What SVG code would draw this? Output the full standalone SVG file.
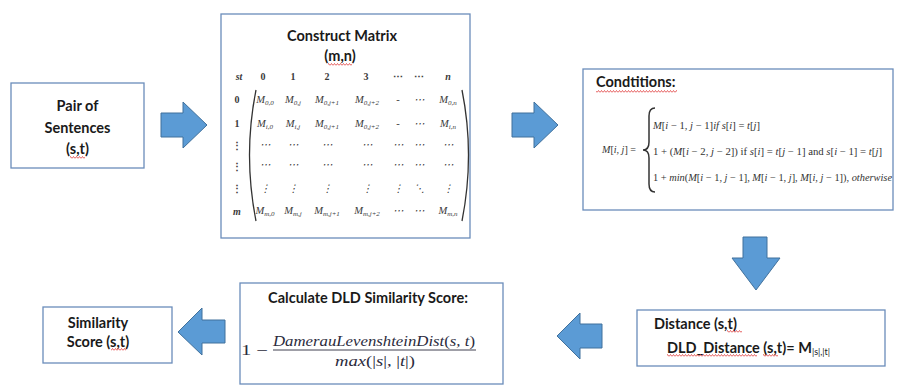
<svg xmlns="http://www.w3.org/2000/svg" width="899" height="385" viewBox="0 0 899 385">
<style>
.box{fill:#fff;stroke:#6a8dbb;stroke-width:1.3}
.arrow{fill:#5b9bd5;stroke:#41719c;stroke-width:1}
.lbl{font-family:Lato,"Liberation Sans",sans-serif;font-weight:bold;font-size:14.5px;fill:#1a1a1a}
.mx{font-family:"Liberation Serif",serif;font-style:italic;font-size:10.5px;fill:#3a3a3a;text-anchor:middle}
.hd{font-family:"Liberation Serif",serif;font-weight:bold;font-size:10px;fill:#3a3a3a;text-anchor:middle}
.eq{font-family:"Liberation Serif",serif;font-style:italic;font-size:10px;fill:#333}
.fr{font-family:"Liberation Serif",serif;font-style:italic;font-size:14px;fill:#2b2b3c}
.up{font-style:normal}
.wavy{fill:url(#wv)}
</style>
<defs>
<pattern id="wv" patternUnits="userSpaceOnUse" x="0" y="0" width="3" height="3">
<path d="M0 2.5 L1.5 0.5 L3 2.5" fill="none" stroke="#e03c3c" stroke-width="0.8"/>
</pattern>
</defs>

<g id="connectors">
<polygon class="arrow" points="161,113 183,113 183,102 207,125 183,148 183,137 161,137"/>
<polygon class="arrow" points="512,113 534,113 534,102 558,125 534,148 534,137 512,137"/>
<polygon class="arrow" points="743,237 767,237 767,258 780,258 756,290 732,258 743,258"/>
<polygon class="arrow" points="602,324 580,324 580,313 557,336 580,359 580,348 602,348"/>
<polygon class="arrow" points="225,320 202,320 202,308 178,332 202,355 202,343 225,343"/>
</g>

<g id="pair">
<rect class="box" x="11" y="83" width="133" height="85"/>
<text class="lbl" text-anchor="middle" x="77.5" y="111">Pair of</text>
<text class="lbl" text-anchor="middle" x="77.5" y="133">Sentences</text>
<text class="lbl" text-anchor="middle" x="77.5" y="154">(s,t)</text>
<rect class="wavy" x="70" y="156" width="15" height="3"/>
</g>

<g id="matrix">
<rect class="box" x="221" y="14" width="249" height="224"/>
<text class="lbl" text-anchor="middle" x="342" y="41">Construct Matrix</text>
<text class="lbl" text-anchor="middle" x="340" y="61">(m,n)</text>
<rect class="wavy" x="328" y="63" width="24" height="3"/>
<g>
<text class="hd" x="239" y="80"><tspan font-style="italic">st</tspan></text>
<text class="hd" x="263" y="80">0</text>
<text class="hd" x="293" y="80">1</text>
<text class="hd" x="327" y="80">2</text>
<text class="hd" x="366" y="80">3</text>
<text class="hd" x="398" y="80" font-weight="normal">⋯</text>
<text class="hd" x="419" y="80" font-weight="normal">⋯</text>
<text class="hd" x="448" y="80" font-style="italic">n</text>
<text class="hd" x="237" y="103">0</text>
<text class="hd" x="237" y="127">1</text>
<text class="hd" x="237" y="149">⋮</text>
<text class="hd" x="237" y="170">⋮</text>
<text class="hd" x="237" y="192">⋮</text>
<text class="hd" x="237" y="215" font-style="italic">m</text>
<path d="M256 90 Q243 155 256 221" fill="none" stroke="#333" stroke-width="1.3"/>
<path d="M462 90 Q475 155 462 221" fill="none" stroke="#333" stroke-width="1.3"/>
<text class="mx" x="265" y="103">M<tspan font-size="7" dy="2">0,0</tspan></text>
<text class="mx" x="293" y="103">M<tspan font-size="7" dy="2">0,j</tspan></text>
<text class="mx" x="327" y="103">M<tspan font-size="7" dy="2">0,j+1</tspan></text>
<text class="mx" x="367" y="103">M<tspan font-size="7" dy="2">0,j+2</tspan></text>
<text class="mx" x="398" y="103">-</text>
<text class="mx" x="419" y="103">⋯</text>
<text class="mx" x="448" y="103">M<tspan font-size="7" dy="2">0,n</tspan></text>
<text class="mx" x="265" y="127">M<tspan font-size="7" dy="2">i,0</tspan></text>
<text class="mx" x="293" y="127">M<tspan font-size="7" dy="2">i,j</tspan></text>
<text class="mx" x="327" y="127">M<tspan font-size="7" dy="2">0,j+1</tspan></text>
<text class="mx" x="367" y="127">M<tspan font-size="7" dy="2">0,j+2</tspan></text>
<text class="mx" x="398" y="127">-</text>
<text class="mx" x="419" y="127">⋯</text>
<text class="mx" x="448" y="127">M<tspan font-size="7" dy="2">i,n</tspan></text>
<text class="mx" x="265" y="148">⋯</text><text class="mx" x="293" y="148">⋯</text><text class="mx" x="327" y="148">⋯</text><text class="mx" x="367" y="148">⋯</text><text class="mx" x="398" y="148">⋯</text><text class="mx" x="419" y="148">⋯</text><text class="mx" x="448" y="148">⋯</text>
<text class="mx" x="265" y="168">⋯</text><text class="mx" x="293" y="168">⋯</text><text class="mx" x="327" y="168">⋯</text><text class="mx" x="367" y="168">⋯</text><text class="mx" x="398" y="168">⋯</text><text class="mx" x="419" y="168">⋯</text><text class="mx" x="448" y="168">⋯</text>
<text class="mx" x="265" y="192">⋮</text><text class="mx" x="293" y="192">⋮</text><text class="mx" x="327" y="192">⋮</text><text class="mx" x="367" y="192">⋮</text><text class="mx" x="398" y="192">⋮</text><text class="mx" x="419" y="192">⋱</text><text class="mx" x="448" y="192">⋮</text>
<text class="mx" x="265" y="214">M<tspan font-size="7" dy="2">m,0</tspan></text>
<text class="mx" x="293" y="214">M<tspan font-size="7" dy="2">m,j</tspan></text>
<text class="mx" x="327" y="214">M<tspan font-size="7" dy="2">m,j+1</tspan></text>
<text class="mx" x="367" y="214">M<tspan font-size="7" dy="2">m,j+2</tspan></text>
<text class="mx" x="398" y="214">⋯</text>
<text class="mx" x="419" y="214">⋯</text>
<text class="mx" x="448" y="214">M<tspan font-size="7" dy="2">m,n</tspan></text>
</g>
</g>

<g id="conditions">
<rect class="box" x="583" y="69" width="310" height="141"/>
<text class="lbl" x="596" y="87">Condtitions:</text>
<rect class="wavy" x="596" y="90" width="81" height="3"/>
<text class="eq" x="602" y="153" textLength="34" lengthAdjust="spacingAndGlyphs">M<tspan class="up">[</tspan>i, j<tspan class="up">] =</tspan></text>
<path d="M655 108 Q649 108 649 116 L649 142 Q649 150 643 150 Q649 150 649 158 L649 184 Q649 192 655 192" fill="none" stroke="#333" stroke-width="1.5"/>
<text class="eq" x="653" y="129" textLength="107" lengthAdjust="spacingAndGlyphs">M<tspan class="up">[</tspan>i <tspan class="up">− 1,</tspan> j <tspan class="up">− 1]</tspan>if s<tspan class="up">[</tspan>i<tspan class="up">] =</tspan> t<tspan class="up">[</tspan>j<tspan class="up">]</tspan></text>
<text class="eq" x="653" y="155" textLength="229" lengthAdjust="spacingAndGlyphs"><tspan class="up">1 + (</tspan>M<tspan class="up">[</tspan>i <tspan class="up">− 2,</tspan> j <tspan class="up">− 2]) if</tspan> s<tspan class="up">[</tspan>i<tspan class="up">] =</tspan> t<tspan class="up">[</tspan>j <tspan class="up">− 1] and</tspan> s<tspan class="up">[</tspan>i <tspan class="up">− 1] =</tspan> t<tspan class="up">[</tspan>j<tspan class="up">]</tspan></text>
<text class="eq" x="653" y="181" textLength="239" lengthAdjust="spacingAndGlyphs"><tspan class="up">1 + </tspan>min<tspan class="up">(</tspan>M<tspan class="up">[</tspan>i <tspan class="up">− 1,</tspan> j <tspan class="up">− 1],</tspan> M<tspan class="up">[</tspan>i <tspan class="up">− 1,</tspan> j<tspan class="up">],</tspan> M<tspan class="up">[</tspan>i, j <tspan class="up">− 1]),</tspan> otherwise</text>
</g>

<g id="distance">
<rect class="box" x="637" y="310" width="248" height="56"/>
<text class="lbl" x="654" y="329">Distance (s,t)</text>
<rect class="wavy" x="727" y="330" width="15" height="3"/>
<text class="lbl" x="667" y="353">DLD_Distance (s,t)= M<tspan font-size="9" font-weight="normal" dy="2">|s|,|t|</tspan></text>
<rect class="wavy" x="667" y="354" width="90" height="3"/>
<rect class="wavy" x="763" y="354" width="15" height="3"/>
</g>

<g id="score">
<rect class="box" x="240" y="283" width="263" height="101"/>
<text class="lbl" text-anchor="middle" x="368" y="303">Calculate DLD Similarity Score:</text>
<text class="fr" x="241" y="355" font-size="16" textLength="27" lengthAdjust="spacingAndGlyphs"><tspan class="up">1 −</tspan></text>
<text class="fr" x="273" y="346" textLength="202" lengthAdjust="spacingAndGlyphs">DamerauLevenshteinDist<tspan class="up">(</tspan>s, t<tspan class="up">)</tspan></text>
<line x1="273" y1="350" x2="476" y2="350" stroke="#2b2b3c" stroke-width="0.9"/>
<text class="fr" x="335" y="366" textLength="80" lengthAdjust="spacingAndGlyphs">max<tspan class="up">(|</tspan>s<tspan class="up">|, |</tspan>t<tspan class="up">|)</tspan></text>
</g>

<g id="similarity">
<rect class="box" x="43" y="307" width="129" height="56"/>
<text class="lbl" text-anchor="middle" x="98" y="328">Similarity</text>
<text class="lbl" text-anchor="middle" x="98" y="347">Score (s,t)</text>
<rect class="wavy" x="111" y="348" width="15" height="3"/>
</g>
</svg>
